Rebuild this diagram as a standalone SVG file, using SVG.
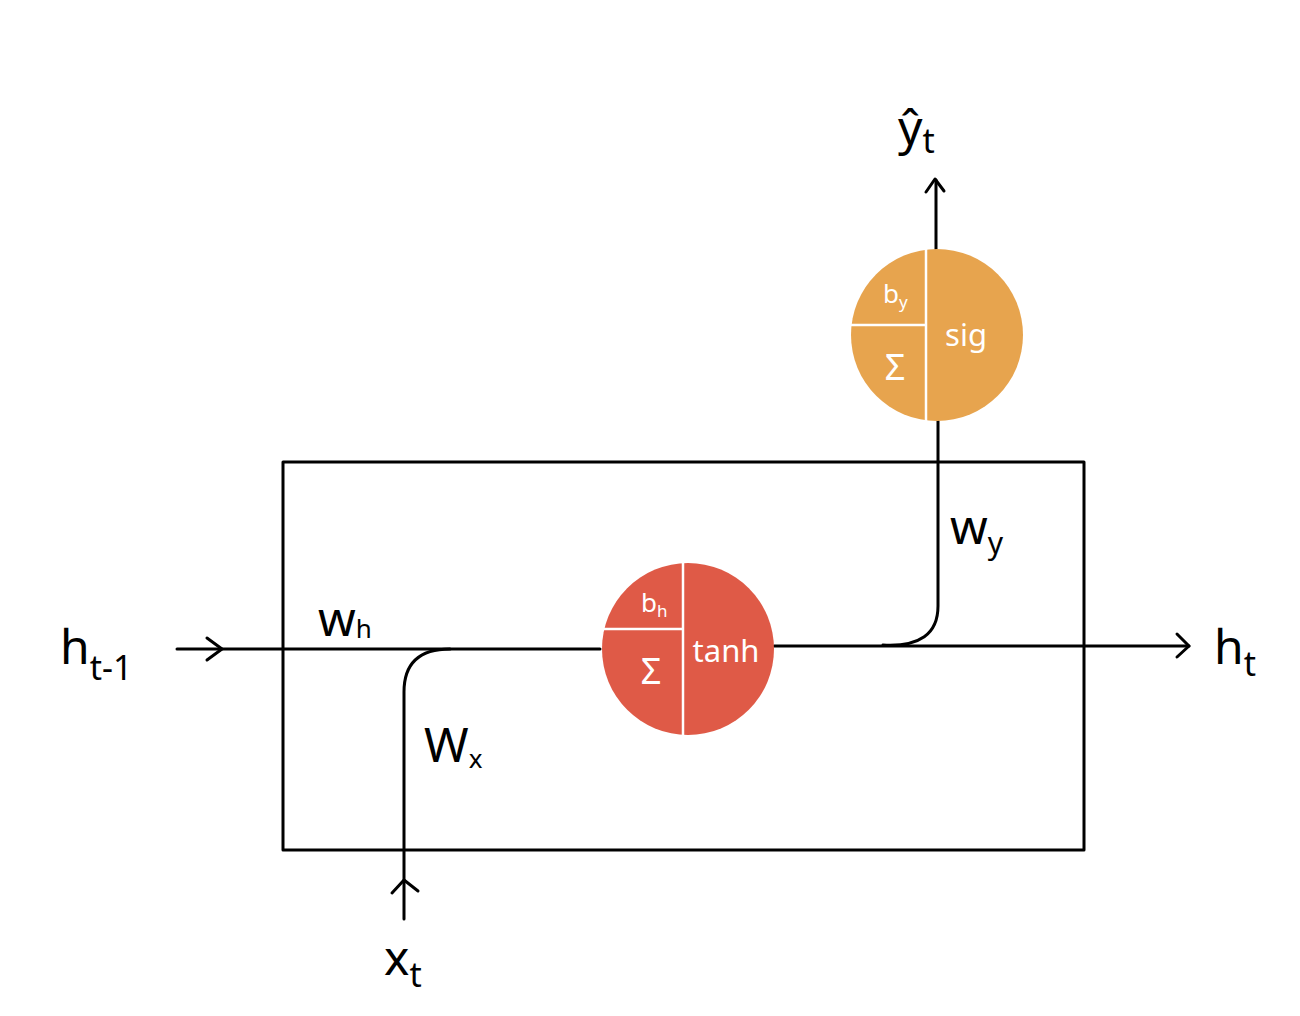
<svg xmlns="http://www.w3.org/2000/svg" width="1300" height="1016" viewBox="0 0 1300 1016">
<style>
.ln{fill:none;stroke:#000;stroke-width:3;stroke-linecap:round;stroke-linejoin:round}
.lab{font-family:"Noto Sans","DejaVu Sans",sans-serif;font-size:48px;fill:#000}
.sub{font-size:34px}
.in{font-family:"Noto Sans","DejaVu Sans",sans-serif;fill:#fff}
.div{stroke:#fff;stroke-width:2.5}
</style>
<rect width="1300" height="1016" fill="#fff"/>
<g id="cell-box"><rect x="283" y="462" width="801" height="388" class="ln" stroke-width="2.5"/></g>
<g id="connectors">
<path class="ln" d="M177 649 H600"/>
<path class="ln" d="M207 638 L222 649 L207 660"/>
<path class="ln" d="M404 919 V692 Q404 649 450 649"/>
<path class="ln" d="M392 893 L404 880 L418 891"/>
<path class="ln" d="M774 646 H1189"/>
<path class="ln" d="M1177 634 L1189 646 L1177 657"/>
<path class="ln" d="M883 645 Q938 648 938 606 V421"/>
<path class="ln" d="M936 249 V180"/>
<path class="ln" d="M926 192 L935 179 L944 191"/>
</g>
<g id="node-tanh">
<circle cx="688" cy="649" r="86" fill="#DF5A47"/>
<line class="div" x1="683" y1="563" x2="683" y2="736"/>
<line class="div" x1="603" y1="629" x2="683" y2="629"/>
<text class="in" x="641" y="612" font-size="26">b<tspan font-size="17" dy="5">h</tspan></text>
<text class="in" x="651" y="684" font-size="36" text-anchor="middle">Σ</text>
<text class="in" x="726" y="662" font-size="31" text-anchor="middle">tanh</text>
</g>
<g id="node-sig">
<circle cx="937" cy="335" r="86" fill="#E7A44E"/>
<line class="div" x1="926" y1="249" x2="926" y2="421"/>
<line class="div" x1="851" y1="325" x2="926" y2="325"/>
<text class="in" x="883" y="303" font-size="26">b<tspan font-size="17" dy="5">y</tspan></text>
<text class="in" x="895" y="380" font-size="36" text-anchor="middle">Σ</text>
<text class="in" x="966" y="346" font-size="31" text-anchor="middle">sig</text>
</g>
<g id="labels">
<text class="lab" x="898" y="145" font-size="54">ŷ<tspan class="sub" dy="8">t</tspan></text>
<text class="lab" x="60" y="664">h<tspan class="sub" dy="16">t-1</tspan></text>
<text class="lab" x="1214" y="664">h<tspan class="sub" dy="12">t</tspan></text>
<text class="lab" x="318" y="636" font-size="38">w<tspan font-size="26" dy="2">h</tspan></text>
<text class="lab" x="424" y="762" font-size="38">W<tspan font-size="26" dy="6">x</tspan></text>
<text class="lab" x="950" y="544" font-size="40">w<tspan font-size="30" dy="10">y</tspan></text>
<text class="lab" x="384" y="975">x<tspan class="sub" dy="12">t</tspan></text>
</g>
</svg>
